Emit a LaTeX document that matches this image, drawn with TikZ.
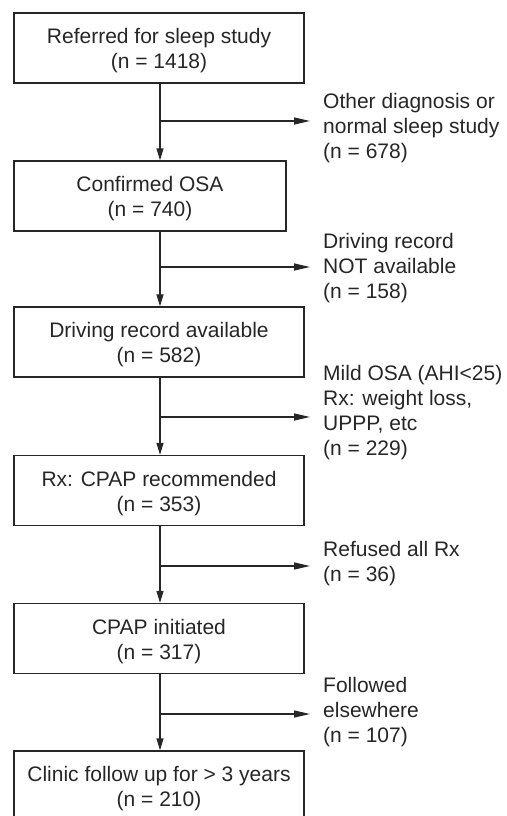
\documentclass[tikz,border=0pt]{standalone}
\usepackage{fontspec}
\setmainfont{Liberation Sans}
\usetikzlibrary{arrows.meta}
\tikzset{>/.tip={Triangle[length=12pt,width=7pt]}}
\colorlet{ink}{black!85}

\begin{document}
\begin{tikzpicture}[x=1pt,y=-1pt,
  every node/.style={font=\fontsize{21}{25}\selectfont, text=ink},
  box/.style={draw=ink, line width=1.3pt, minimum width=290pt, minimum height=70pt, align=center, inner sep=0pt,
    text height=46pt, text depth=5pt},
  note/.style={anchor=north west, align=left, inner sep=0pt},
  flow/.style={draw=ink, line width=1.3pt, ->},
  side/.style={flow, -{Triangle[length=16pt,width=7pt]}}]
\clip (0,0) rectangle (506,816);
% main column
\node[box] (ref)    at (159,48)  {Referred for sleep study\\(n = 1418)};
\node[box, minimum width=272pt] (osa) at (150,196) {Confirmed OSA\\(n = 740)};
\node[box] (rec)    at (159,342) {Driving record available\\(n = 582)};
\node[box] (cpap)   at (159,490.5) {Rx: CPAP recommended\\(n = 353)};
\node[box] (init)   at (159,638.5) {CPAP initiated\\(n = 317)};
\node[box] (clinic) at (159,786) {Clinic follow up for > 3 years\\(n = 210)};
% excluded
\node[note] (other)     at (323,92.7)  {Other diagnosis or\\normal sleep study\\(n = 678)};
\node[note] (norec)     at (323,232.7) {Driving record\\NOT available\\(n = 158)};
\node[note] (mild)      at (323,365.4) {Mild OSA (AHI<25)\\Rx: weight loss,\\UPPP, etc\\(n = 229)};
\node[note] (refused)   at (323,541.4) {Refused all Rx\\(n = 36)};
\node[note] (elsewhere) at (323,677.4) {Followed\\elsewhere\\(n = 107)};
\coordinate (spine) at (160,0);
\coordinate (t1) at (310,121);
\coordinate (t2) at (310,267);
\coordinate (t3) at (310,417);
\coordinate (t4) at (310,566);
\coordinate (t5) at (310,714);
\foreach \a/\b in {ref/osa,osa/rec,rec/cpap,cpap/init,init/clinic}
{
  \draw[flow] (\a.south -| spine) -- (\b.north -| spine);
}
\foreach \t in {t1,t2,t3,t4,t5}
{
  \draw[side] (spine |- \t) -- (\t);
}
\end{tikzpicture}
\end{document}
